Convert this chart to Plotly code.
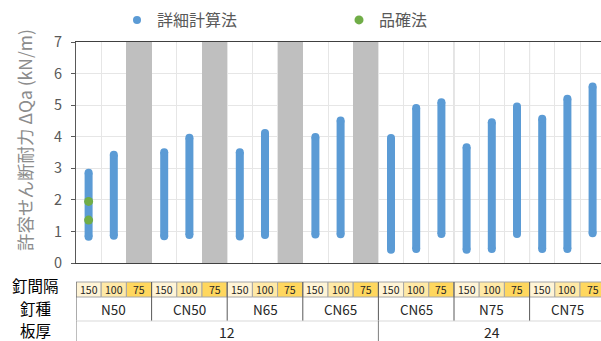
import plotly.graph_objects as go

# ---- data ----
spacings = ["150", "100", "75"] * 7
nail_types = ["N50", "CN50", "N65", "CN65", "CN65", "N75", "CN75"]
thickness_labels = ["12", "24"]
thickness_groups = [4, 3]  # number of nail-type groups per thickness

detailed_low = [0.83, 0.86, None, 0.85, 0.89, None, 0.84, 0.89, None, 0.90, 0.91, None,
                0.42, 0.44, 0.92, 0.42, 0.44, 0.92, 0.44, 0.44, 0.94]
detailed_high = [2.86, 3.43, None, 3.51, 3.97, None, 3.51, 4.12, None, 3.99, 4.51, None,
                 3.96, 4.91, 5.09, 3.67, 4.46, 4.96, 4.57, 5.20, 5.59]
hinkaku_col = [0, 0]
hinkaku_vals = [1.95, 1.36]
y_max = 7

BLUE = "#5B9BD5"
GREEN = "#70AD47"
GRAYBAR = "#BFBFBF"
FONT = "Noto Sans CJK JP"

n = len(spacings)
W, H = 601, 341
L, R, T, B = 76, 0, 42, 78
plot_h = H - T - B
plot_w = W - L - R
col_px = 25.2
x_range = [-0.5, -0.5 + plot_w / col_px]


def py(p):  # pixel y -> paper y
    return (H - B - p) / plot_h


def px(p):  # pixel x -> paper x
    return (p - L) / plot_w


fig = go.Figure()

# gray blocks where no value
na_x = [i for i in range(n) if detailed_low[i] is None]
fig.add_trace(go.Bar(x=na_x, y=[y_max] * len(na_x), width=1, marker=dict(color=GRAYBAR, line=dict(width=0)),
                     showlegend=False, hoverinfo="skip"))

# blue range bars
xs, ys = [], []
for i in range(n):
    if detailed_low[i] is None:
        continue
    xs += [i, i, None]
    ys += [detailed_low[i], detailed_high[i], None]
fig.add_trace(go.Scatter(x=xs, y=ys, mode="lines+markers", line=dict(color=BLUE, width=8),
                         marker=dict(color=BLUE, size=8, line=dict(width=0)), showlegend=False))

# legend entries
fig.add_trace(go.Scatter(x=[None], y=[None], mode="markers", name="詳細計算法",
                         marker=dict(color=BLUE, size=8)))
fig.add_trace(go.Scatter(x=hinkaku_col, y=hinkaku_vals, mode="markers", name="品確法",
                         marker=dict(color=GREEN, size=9, line=dict(width=0))))

shapes = []
annotations = []

# darker group-boundary grid lines
for b in [14.5, 17.5]:
    shapes.append(dict(type="line", xref="x", yref="paper", x0=b, x1=b, y0=0, y1=1,
                       line=dict(color="#C8C8C8", width=1), layer="below"))

# ---- table ----
fills = {"150": "#FFF4D6", "100": "#FFE9A6", "75": "#FFD75E"}
r1_top, r1_bot, r2_bot, r3_bot = py(282), py(297), py(321), py(345)


def ann(x, y, text, size, color="#262626", xref="x"):
    annotations.append(dict(x=x, y=y, xref=xref, yref="paper", text=text, showarrow=False,
                            xanchor="center", yanchor="middle", borderpad=0,
                            font=dict(size=size, color=color, family=FONT)))


for i, s in enumerate(spacings):
    shapes.append(dict(type="rect", xref="x", yref="paper", x0=i - 0.5, x1=i + 0.5, y0=r1_bot, y1=r1_top,
                       fillcolor=fills[s], line=dict(color="#A6A6A6", width=1)))
    ann(i, (r1_top + r1_bot) / 2, s, 10.5)
for g, name in enumerate(nail_types):
    ann(3 * g + 1, py(309), name, 13.5)
    xb = 3 * g - 0.5
    shapes.append(dict(type="line", xref="x", yref="paper", x0=xb, x1=xb, y0=r1_top, y1=r2_bot,
                       line=dict(color="#595959", width=1)))
shapes.append(dict(type="line", xref="x", yref="paper", x0=n - 0.5, x1=n - 0.5, y0=r1_top, y1=r2_bot,
                   line=dict(color="#595959", width=1)))
shapes.append(dict(type="line", xref="x", yref="paper", x0=-0.5, x1=n + 1, y0=r2_bot, y1=r2_bot,
                   line=dict(color="#D9D9D9", width=1)))
start = 0
for lab, cnt in zip(thickness_labels, thickness_groups):
    a = start * 3 - 0.5
    b = (start + cnt) * 3 - 0.5
    ann((a + b) / 2, py(332), lab, 14)
    shapes.append(dict(type="line", xref="x", yref="paper", x0=a, x1=a, y0=r2_bot, y1=r3_bot,
                       line=dict(color="#7F7F7F", width=1)))
    start += cnt

for lab, pyy in [("釘間隔", 285), ("釘種", 307.5), ("板厚", 329.5)]:
    ann(px(36), py(pyy), lab, 15.5, "#000000", "paper")

annotations.append(dict(x=px(24), y=py(140), xref="paper", yref="paper", text="許容せん断耐力 ΔQa (kN/m)",
                        textangle=-90, showarrow=False, xanchor="center", yanchor="middle",
                        font=dict(size=17.5, color="#8C8C8C", family=FONT)))

fig.update_layout(
    width=W, height=H, margin=dict(l=L, r=R, t=T, b=B),
    paper_bgcolor="white", plot_bgcolor="white",
    font=dict(family=FONT, color="#595959"),
    bargap=0,
    shapes=shapes, annotations=annotations,
    legend=dict(orientation="h", x=px(117), y=py(3), xanchor="left", yanchor="top",
                font=dict(size=16, color="#595959", family=FONT),
                entrywidth=177, entrywidthmode="pixels", bgcolor="rgba(0,0,0,0)"),
    xaxis=dict(range=x_range, tickvals=[i + 0.5 for i in range(-1, n)], showticklabels=False, ticks="",
               showgrid=True, gridcolor="#E6E6E6", zeroline=False, showline=True, mirror=True,
               linecolor="#404040", linewidth=1, layer="below traces", fixedrange=True),
    yaxis=dict(range=[0, y_max], dtick=1, showgrid=True, gridcolor="#E6E6E6", zeroline=False,
               ticks="outside", ticklen=4, tickcolor="#595959", showline=True, linecolor="#595959",
               tickfont=dict(size=14.5, color="#595959", family=FONT), ticklabelstandoff=6,
               layer="below traces", fixedrange=True),
)

fig.write_html("out.html")
